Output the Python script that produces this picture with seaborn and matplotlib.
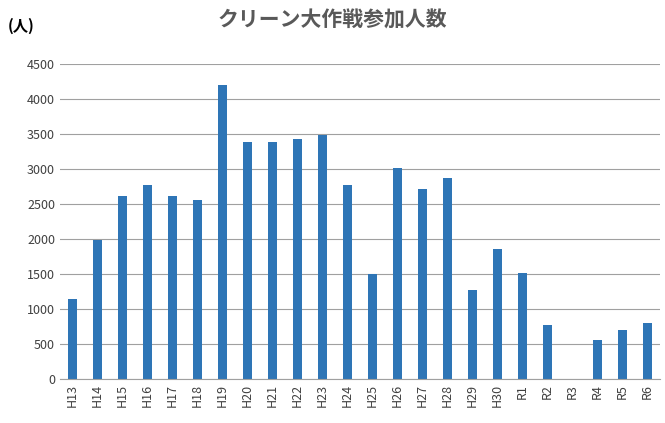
import matplotlib
matplotlib.use("Agg")
import matplotlib.pyplot as plt
import seaborn as sns
import pandas as pd

categories = ["H13","H14","H15","H16","H17","H18","H19","H20","H21","H22","H23","H24",
              "H25","H26","H27","H28","H29","H30","R1","R2","R3","R4","R5","R6"]
values = [1150,1980,2610,2770,2620,2550,4200,3380,3390,3430,3480,2770,
          1500,3020,2720,2870,1270,1850,1520,770,0,560,700,800]
yticks = list(range(0, 4501, 500))

plt.rcParams["font.family"] = ["Noto Sans CJK JP", "DejaVu Sans"]
df = pd.DataFrame({"cat": categories, "val": values})

fig = plt.figure(figsize=(6.65, 4.23), dpi=100)
ax = fig.add_axes([60/665, 1-379/423, 600/665, 315/423])
sns.barplot(data=df, x="cat", y="val", color="#2E75B6", saturation=1, width=0.35, ax=ax)
ax.set_ylim(0, 4500)
ax.set_xlim(-0.5, len(categories)-0.5)
ax.set_yticks(yticks)
ax.set_yticklabels([str(v) for v in yticks], fontsize=9, color="#404040")
ax.tick_params(axis="x", rotation=90, labelsize=9, colors="#404040", length=0)
ax.tick_params(axis="y", length=0)
ax.set_xlabel(""); ax.set_ylabel("")
ax.grid(axis="y", color="#A0A0A0", linewidth=0.8)
ax.set_axisbelow(True)
for s in ["top", "right", "left"]:
    ax.spines[s].set_visible(False)
ax.spines["bottom"].set_color("#A0A0A0")
fig.text(0.5, 1-20/423, "クリーン大作戦参加人数", ha="center", va="center",
         fontsize=15, fontweight="bold", color="#595959")
fig.text(8/665, 1-26/423, "(人)", ha="left", va="center", fontsize=11, fontweight="bold", color="#000000")
fig.savefig("out.png", dpi=100)
